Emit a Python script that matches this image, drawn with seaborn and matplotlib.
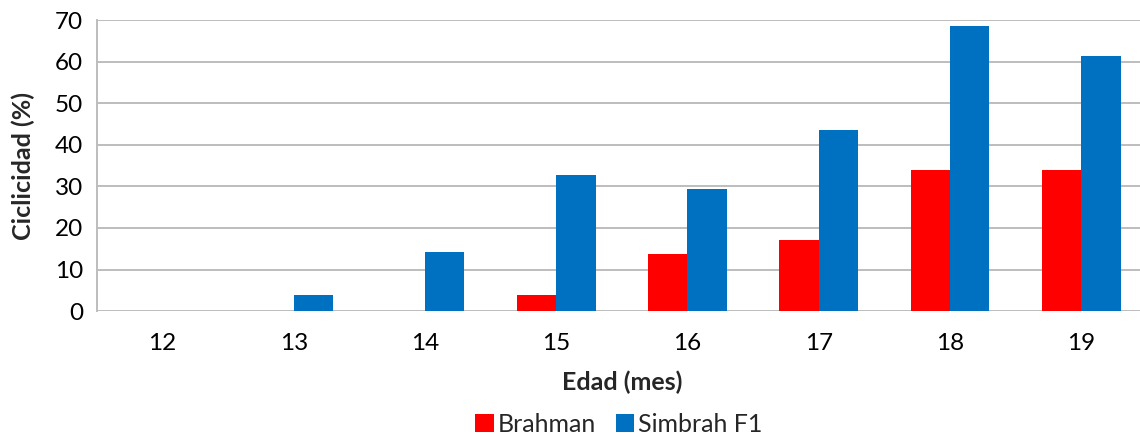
import matplotlib
matplotlib.use("Agg")
import matplotlib.pyplot as plt
import seaborn as sns
import pandas as pd

# --- Data ---
ages = ["12", "13", "14", "15", "16", "17", "18", "19"]
brahman = [0, 0, 0, 3.8, 13.8, 17.2, 34.0, 34.0]
simbrah = [0, 3.8, 14.3, 32.7, 29.3, 43.5, 68.5, 61.3]
series_names = ["Brahman", "Simbrah F1"]
colors = ["#FF0000", "#0070C0"]

df = pd.DataFrame({
    "Edad": ages * 2,
    "Ciclicidad": brahman + simbrah,
    "Raza": [series_names[0]] * len(ages) + [series_names[1]] * len(ages),
})

sns.set_style("white")
plt.rcParams["font.family"] = ["Lato", "DejaVu Sans"]

fig = plt.figure(figsize=(11.4, 4.37), dpi=100)
ax = fig.add_axes([0.085, 0.288, 0.921, 0.666])

sns.barplot(data=df, x="Edad", y="Ciclicidad", hue="Raza",
            palette=colors, width=0.6, linewidth=0, saturation=1,
            order=ages, hue_order=series_names, ax=ax)

ax.set_xlim(-0.5, len(ages) - 0.5)
ax.set_ylim(0, 70)
ax.set_yticks(range(0, 71, 10))
ax.yaxis.grid(True, color="#BDBDBD", linewidth=1.4)
ax.set_axisbelow(True)
for side in ["top", "right", "bottom"]:
    ax.spines[side].set_visible(False)
ax.spines["left"].set_color("#BDBDBD")
ax.spines["left"].set_linewidth(1.4)
ax.tick_params(axis="both", length=0, labelsize=17.5, colors="black")
ax.tick_params(axis="x", pad=16)
ax.tick_params(axis="y", pad=10)

ax.set_xlabel("Edad (mes)", fontsize=18, fontweight="bold", labelpad=12)
ax.set_ylabel("Ciclicidad (%)", fontsize=18, fontweight="bold", labelpad=14)

ax.legend(loc="upper center", bbox_to_anchor=(0.497, -0.315), ncol=2,
          frameon=False, fontsize=18, handlelength=0.75, handleheight=0.75,
          handletextpad=0.15, columnspacing=0.8, borderaxespad=0)

fig.savefig("out.png", dpi=100)
